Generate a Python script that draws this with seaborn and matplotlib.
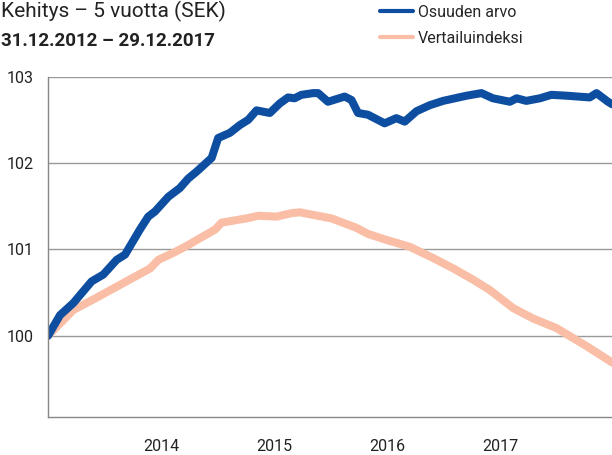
import pandas as pd
import seaborn as sns
import matplotlib.pyplot as plt

# Osuuden arvo (fund value)
fund_dates = [
    "2012-12-31", "2013-02-08", "2013-03-23", "2013-05-21", "2013-06-28",
    "2013-08-10", "2013-09-06", "2013-10-24", "2013-11-20", "2013-12-12",
    "2014-01-24", "2014-03-02", "2014-03-29", "2014-04-25", "2014-06-13",
    "2014-07-04", "2014-08-11", "2014-09-12", "2014-10-09", "2014-11-05",
    "2014-12-18", "2015-01-19", "2015-02-15", "2015-03-08", "2015-03-30",
    "2015-05-07", "2015-05-23", "2015-06-24", "2015-08-17", "2015-09-08",
    "2015-09-29", "2015-10-31", "2015-12-24", "2016-01-31", "2016-02-27",
    "2016-04-05", "2016-05-18", "2016-06-30", "2016-09-14", "2016-11-01",
    "2016-12-08", "2017-02-01", "2017-02-23", "2017-03-26", "2017-05-09",
    "2017-06-15", "2017-08-03", "2017-10-17", "2017-11-08", "2017-12-15",
    "2017-12-29",
]
fund_values = [
    100.00, 100.24, 100.38, 100.63, 100.71,
    100.88, 100.94, 101.23, 101.38, 101.44,
    101.61, 101.71, 101.82, 101.90, 102.06,
    102.29, 102.35, 102.44, 102.50, 102.61,
    102.58, 102.69, 102.76, 102.75, 102.79,
    102.81, 102.81, 102.71, 102.77, 102.73,
    102.58, 102.56, 102.46, 102.52, 102.48,
    102.60, 102.67, 102.72, 102.78, 102.81,
    102.75, 102.71, 102.75, 102.72, 102.75,
    102.79, 102.78, 102.76, 102.81, 102.71,
    102.68,
]

# Vertailuindeksi (benchmark)
bench_dates = [
    "2012-12-31", "2013-03-23", "2013-05-26", "2013-08-31", "2013-11-26",
    "2013-12-23", "2014-02-09", "2014-03-29", "2014-05-06", "2014-06-24",
    "2014-07-15", "2014-10-04", "2014-11-11", "2015-01-09", "2015-02-26",
    "2015-03-25", "2015-05-07", "2015-07-05", "2015-09-24", "2015-10-31",
    "2015-12-30", "2016-03-15", "2016-05-29", "2016-08-02", "2016-10-05",
    "2016-11-28", "2017-02-12", "2017-04-17", "2017-07-01", "2017-10-07",
    "2017-12-29",
]
bench_values = [
    100.00, 100.30, 100.42, 100.61, 100.78,
    100.88, 100.96, 101.05, 101.13, 101.23,
    101.31, 101.36, 101.39, 101.38, 101.42,
    101.43, 101.40, 101.36, 101.25, 101.18,
    101.11, 101.03, 100.90, 100.78, 100.65,
    100.53, 100.32, 100.20, 100.09, 99.88,
    99.69,
]

series_names = ["Osuuden arvo", "Vertailuindeksi"]
year_ticks = ["2014-01-01", "2015-01-01", "2016-01-01", "2017-01-01"]
year_labels = ["2014", "2015", "2016", "2017"]
y_ticks = [100, 101, 102, 103]

df = pd.concat([
    pd.DataFrame({"date": pd.to_datetime(fund_dates), "value": fund_values,
                  "series": series_names[0]}),
    pd.DataFrame({"date": pd.to_datetime(bench_dates), "value": bench_values,
                  "series": series_names[1]}),
])

sns.set_theme(style="white")
plt.rcParams["font.family"] = ["Roboto", "DejaVu Sans"]

blue = "#0E4EA0"
peach = "#F9BEA5"

fig = plt.figure(figsize=(6.12, 4.55), dpi=100)
ax = fig.add_axes([48 / 612, 1 - 417 / 455, 1 - 48 / 612, (417 - 76.7) / 455])

sns.lineplot(data=df, x="date", y="value", hue="series", hue_order=series_names[::-1],
             palette={series_names[0]: blue, series_names[1]: peach},
             linewidth=5.8, ax=ax, legend=False, solid_capstyle="round",
             solid_joinstyle="round")

ax.set_xlim(pd.Timestamp("2012-12-31"), pd.Timestamp("2017-12-28"))
ax.set_ylim(99.06, 103.0)
ax.set_yticks(y_ticks)
ax.set_yticklabels([str(v) for v in y_ticks], fontsize=11.5, color="#222222")
ax.set_xticks(pd.to_datetime(year_ticks))
ax.set_xticklabels(year_labels, fontsize=11.5, color="#222222")
ax.tick_params(axis="y", length=0, pad=10)
ax.tick_params(axis="x", length=0, pad=16)
ax.set_xlabel("")
ax.set_ylabel("")

ax.grid(axis="y", color="#999999", linewidth=1.0)
ax.grid(axis="x", visible=False)
for side in ["top", "right"]:
    ax.spines[side].set_visible(False)
for side in ["left", "bottom"]:
    ax.spines[side].set_color("#888888")
    ax.spines[side].set_linewidth(1.0)

# legend
handles = [plt.Line2D([], [], color=blue, linewidth=3),
           plt.Line2D([], [], color=peach, linewidth=3)]
fig.legend(handles, series_names, loc="upper left",
           bbox_to_anchor=(378 / 612, 1 - 3 / 455), frameon=False,
           fontsize=11.5, handlelength=2.1, handletextpad=0.3,
           labelspacing=0.7, borderaxespad=0, borderpad=0.1)

# titles
fig.text(1 / 612, 1 - 17 / 455, "Kehitys – 5 vuotta (SEK)", fontsize=15,
         va="baseline", ha="left", color="#222222")
fig.text(1 / 612, 1 - 46 / 455, "31.12.2012 – 29.12.2017", fontsize=13.5,
         fontweight="bold", va="baseline", ha="left", color="#222222")

fig.savefig("out.png", dpi=100)
